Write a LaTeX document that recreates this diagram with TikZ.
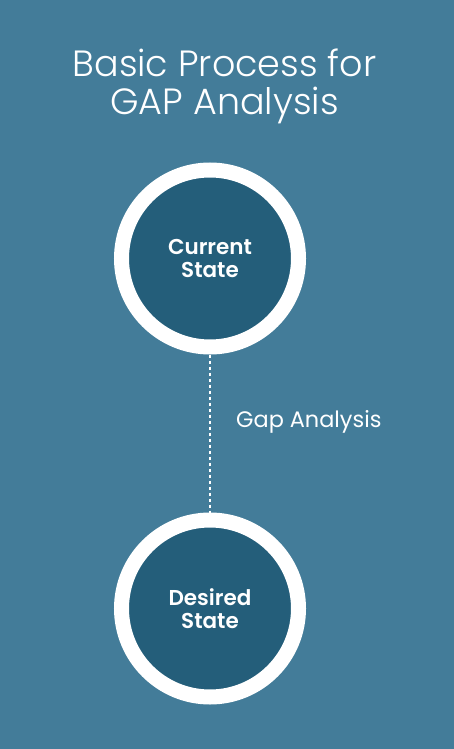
\documentclass[tikz,border=0pt]{standalone}
\usepackage{fontspec}
\setmainfont{Poppins}[FontFace={l}{n}{Poppins Light}, FontFace={sb}{n}{Poppins SemiBold}]
\usetikzlibrary{positioning,calc}
\definecolor{gapbg}{RGB}{67,124,153}
\definecolor{statefill}{RGB}{36,94,122}

\begin{document}
\begin{tikzpicture}[x=1pt, y=-1pt,
    state/.style={circle, fill=statefill, draw=white, line width=15pt,
        minimum size=177pt, inner sep=0pt, text=white, align=center,
        font=\fontseries{sb}\selectfont\fontsize{21.5}{23}\selectfont}]
    \fill[gapbg] (0,0) rectangle (454,749);
    \useasboundingbox (0,0) rectangle (454,749);
    \node[text=white, align=center, anchor=base,
        font=\fontseries{l}\selectfont\fontsize{36.5}{37}\selectfont] (title) at (224.5, 114) {Basic Process for\\GAP Analysis};
    \node[state] (current) at (210, 258.5) {Current\\State};
    \node[state] (desired) at (210, 608.5) {Desired\\State};
    \draw[white, line width=2pt, dash pattern=on 3pt off 3pt] (current) -- (desired);
    \node[text=white, anchor=base west, inner sep=0pt, font=\fontsize{22.4}{24}\selectfont] (gap) at (236, 427) {Gap Analysis};
\end{tikzpicture}
\end{document}
